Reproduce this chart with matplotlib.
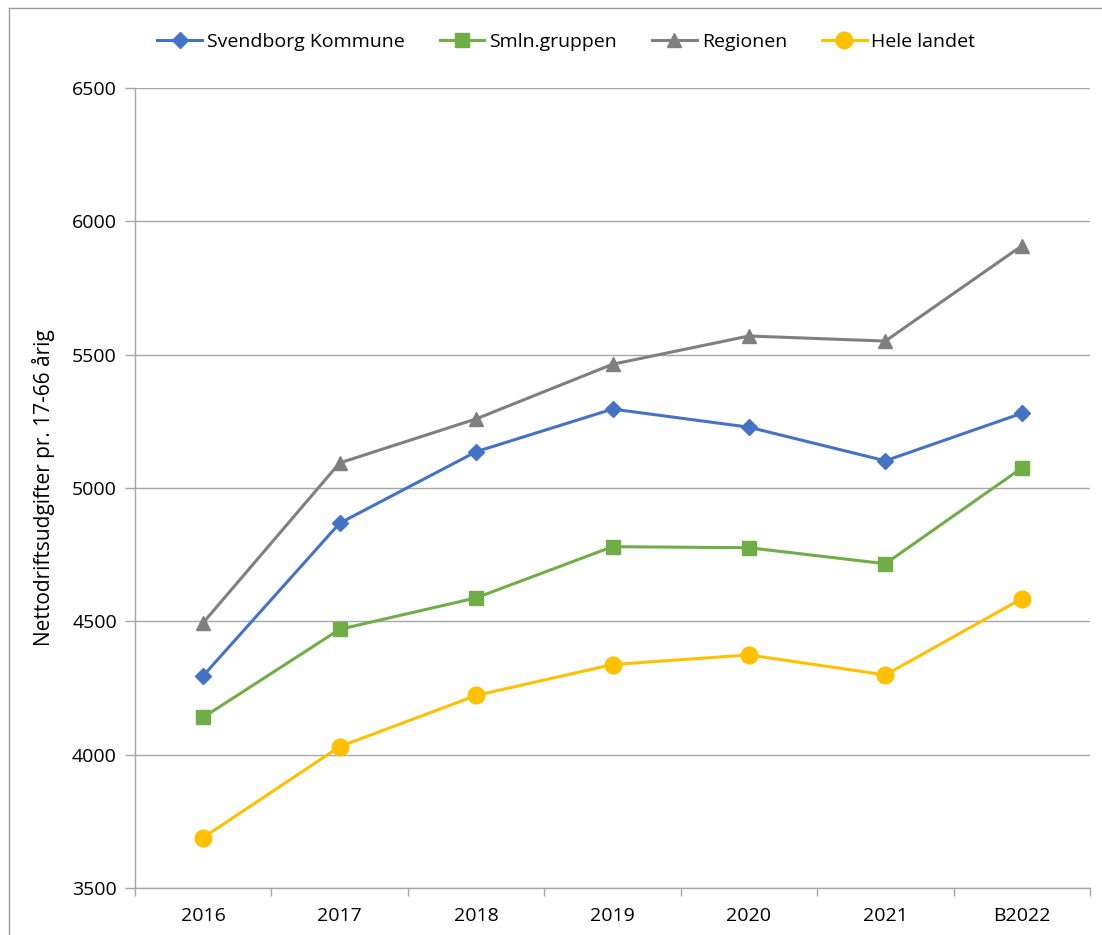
import matplotlib
matplotlib.use("Agg")
import matplotlib.pyplot as plt
from matplotlib.lines import Line2D

categories = ["2016", "2017", "2018", "2019", "2020", "2021", "B2022"]
svendborg = [4296, 4868, 5136, 5296, 5228, 5102, 5280]
smln = [4140, 4470, 4588, 4780, 4776, 4716, 5075]
regionen = [4495, 5094, 5259, 5464, 5570, 5551, 5908]
hele = [3689, 4030, 4222, 4338, 4374, 4299, 4585]
yticks = [3500, 4000, 4500, 5000, 5500, 6000, 6500]

plt.rcParams['font.family'] = ['Open Sans', 'DejaVu Sans']

fig = plt.figure(figsize=(11.02, 9.35), dpi=100)
ax = fig.add_axes([135/1102, 47/935, (1090-135)/1102, (888-88)/935])

x = list(range(len(categories)))
l1, = ax.plot(x, svendborg, color='#4472C4', lw=2.2, marker='D', ms=8, label='Svendborg Kommune')
l2, = ax.plot(x, smln, color='#70AD47', lw=2.2, marker='s', ms=10, label='Smln.gruppen')
l3, = ax.plot(x, regionen, color='#7F7F7F', lw=2.2, marker='^', ms=10, label='Regionen')
l4, = ax.plot(x, hele, color='#FFC000', lw=2.2, marker='o', ms=12, label='Hele landet')

ax.set_xlim(-0.5, len(categories) - 0.5)
ax.set_ylim(3500, 6500)
ax.set_yticks(yticks)
ax.set_yticklabels([str(v) for v in yticks])
ax.grid(axis='y', color='#A6A6A6', lw=1)
ax.set_axisbelow(True)

ax.set_xticks([i - 0.5 for i in range(len(categories) + 1)])
ax.set_xticklabels([])
ax.set_xticks(x, minor=True)
ax.set_xticklabels(categories, minor=True)
ax.tick_params(axis='x', which='major', length=6, color='#A6A6A6', width=1)
ax.tick_params(axis='x', which='minor', length=0, pad=14, labelsize=14)
ax.tick_params(axis='y', length=7, color='#A6A6A6', width=1, labelsize=14, pad=6)

for s in ['top', 'right']:
    ax.spines[s].set_visible(False)
for s in ['left', 'bottom']:
    ax.spines[s].set_color('#A6A6A6')
    ax.spines[s].set_linewidth(1)

ax.set_ylabel('Nettodriftsudgifter pr. 17-66 årig', fontsize=15, labelpad=12)

fig.legend(handles=[l1, l2, l3, l4], loc='center', bbox_to_anchor=(0.514, 1 - 42/935),
           ncol=4, frameon=False, fontsize=14, handlelength=2.3, columnspacing=1.8,
           handletextpad=0.25)

# outer chart frame
fig.add_artist(Line2D([9/1102, 9/1102], [0, 1 - 8/935], color='#9A9A9A', lw=1, transform=fig.transFigure))
fig.add_artist(Line2D([9/1102, 1], [1 - 8/935, 1 - 8/935], color='#9A9A9A', lw=1, transform=fig.transFigure))

fig.savefig('out.png', dpi=100)
